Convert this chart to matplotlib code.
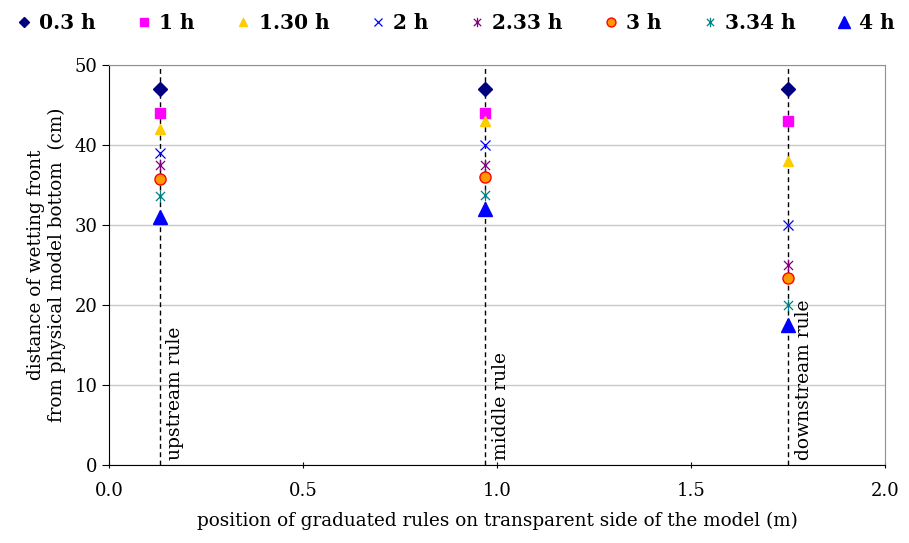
import matplotlib
matplotlib.use("Agg")
import matplotlib.pyplot as plt
from matplotlib.path import Path

# rule positions (m)
rules_x = [0.13, 0.97, 1.75]
rule_names = ["upstream rule", "middle rule", "downstream rule"]

# wetting front distance (cm) for each time, at the three rules
labels = ["0.3 h", "1 h", "1.30 h", "2 h", "2.33 h", "3 h", "3.34 h", "4 h"]
d_03 = [47, 47, 47]
d_1 = [44, 44, 43]
d_130 = [42, 43, 38]
d_2 = [39, 40, 30]
d_233 = [37.5, 37.5, 25]
d_3 = [35.7, 36, 23.4]
d_334 = [33.6, 33.8, 20]
d_4 = [31, 32, 17.5]
series = [d_03, d_1, d_130, d_2, d_233, d_3, d_334, d_4]

# Excel-like star marker (x with a vertical bar)
star = Path([(-1, -1), (1, 1), (-1, 1), (1, -1), (0, -1.3), (0, 1.3)],
            [Path.MOVETO, Path.LINETO, Path.MOVETO, Path.LINETO, Path.MOVETO, Path.LINETO])

styles = [
    dict(marker="D", color="#000080", ms=7),
    dict(marker="s", color="#FF00FF", ms=7),
    dict(marker="^", color="#FFCC00", ms=7),
    dict(marker="x", color="#0000FF", ms=7, mew=0.9),
    dict(marker=star, color="#800080", ms=8.5, mew=0.9),
    dict(marker="o", color="#FF9900", mec="#FF0000", ms=8, mew=1),
    dict(marker=star, color="#008080", ms=8.5, mew=0.9),
    dict(marker="^", color="#0000FF", ms=10),
]

plt.rcParams["font.family"] = "DejaVu Serif"

fig = plt.figure(figsize=(9.09, 5.43), dpi=100)
ax = fig.add_axes([0.12, 0.1436, 0.8536, 0.7366])

for xv, name in zip(rules_x, rule_names):
    ax.plot([xv, xv], [0, 50], ls=(0, (3.5, 2.5)), color="black", lw=1, zorder=2)
    ax.text(xv + 0.018, 0.6, name, rotation=90, ha="left", va="bottom", fontsize=13.5)

for lab, vals, st in zip(labels, series, styles):
    ax.plot(rules_x, vals, ls="none", label=lab, zorder=3, **st)

ax.set_xlim(0, 2.0)
ax.set_ylim(0, 50)
ax.set_xticks([0, 0.5, 1.0, 1.5, 2.0])
ax.set_xticklabels(["0.0", "0.5", "1.0", "1.5", "2.0"])
ax.set_yticks(range(0, 51, 10))
ax.yaxis.grid(True, color="#c8c8c8", lw=1)
ax.set_axisbelow(True)
ax.tick_params(axis="both", labelsize=13, color="black", length=5)
ax.tick_params(axis="x", direction="inout", pad=10)
ax.spines["top"].set_color("#909090")
ax.spines["right"].set_color("#909090")

ax.set_xlabel("position of graduated rules on transparent side of the model (m)", fontsize=13.2, labelpad=8)
ax.set_ylabel("distance of wetting front\nfrom physical model bottom  (cm)", fontsize=13.2, labelpad=6)

ax.legend(loc="lower center", bbox_to_anchor=(0.445, 1.045), ncol=8, frameon=False,
          prop={"weight": "bold", "size": 14.5}, handletextpad=0.25, columnspacing=1.9,
          handlelength=1.0, markerscale=0.8, borderpad=0.2)

fig.savefig("out.png", dpi=100)
